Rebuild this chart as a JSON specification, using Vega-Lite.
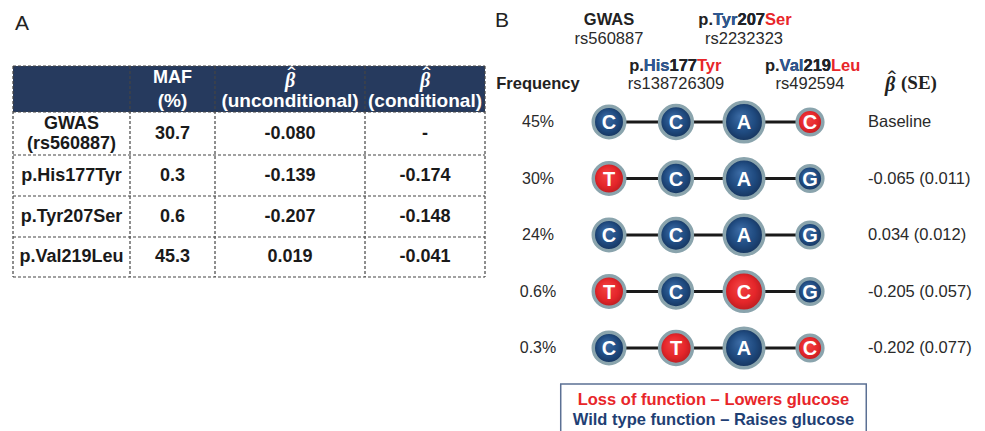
{
 "$schema": "https://vega.github.io/schema/vega-lite/v6.json",
 "padding": 0,
 "spacing": 0,
 "bounds": "flush",
 "background": "white",
 "config": {"view": {"stroke": null}, "text": {"font": "Liberation Sans"}},
 "datasets": {
  "tbl": [
   {"row":1,"col":0,"text":"GWAS\n(rs560887)"},{"row":1,"col":1,"text":"30.7"},{"row":1,"col":2,"text":"-0.080"},{"row":1,"col":3,"text":"-"},
   {"row":2,"col":0,"text":"p.His177Tyr"},{"row":2,"col":1,"text":"0.3"},{"row":2,"col":2,"text":"-0.139"},{"row":2,"col":3,"text":"-0.174"},
   {"row":3,"col":0,"text":"p.Tyr207Ser"},{"row":3,"col":1,"text":"0.6"},{"row":3,"col":2,"text":"-0.207"},{"row":3,"col":3,"text":"-0.148"},
   {"row":4,"col":0,"text":"p.Val219Leu"},{"row":4,"col":1,"text":"45.3"},{"row":4,"col":2,"text":"0.019"},{"row":4,"col":3,"text":"-0.041"}
  ],
  "thead": [
   {"row":0,"col":1,"top":"MAF","sub":"(%)"},
   {"row":0,"col":2,"top":"β","sub":"(unconditional)"},
   {"row":0,"col":3,"top":"β","sub":"(conditional)"}
  ],
  "vedges": [{"col":-0.5},{"col":0.5},{"col":1.5},{"col":2.5},{"col":3.5}],
  "hedges": [{"row":-0.5},{"row":0.5},{"row":1.5},{"row":2.5},{"row":3.5},{"row":4.5}],
  "snps": [
   {"row":-2,"col":1,"name":"GWAS","rs":"rs560887"},
   {"row":-2,"col":3,"pre":"p.Tyr207","wnum":"Tyr207","num":"207","mut":"Ser","rs":"rs2232323"},
   {"row":-1,"col":2,"pre":"p.His177","wnum":"His177","num":"177","mut":"Tyr","rs":"rs138726309"},
   {"row":-1,"col":4,"pre":"p.Val219","wnum":"Val219","num":"219","mut":"Leu","rs":"rs492594"}
  ],
  "haps": [
   {"row":0,"freq":"45%","beta":"Baseline"},
   {"row":1,"freq":"30%","beta":"-0.065 (0.011)"},
   {"row":2,"freq":"24%","beta":"0.034 (0.012)"},
   {"row":3,"freq":"0.6%","beta":"-0.205 (0.057)"},
   {"row":4,"freq":"0.3%","beta":"-0.202 (0.077)"}
  ],
  "alleles": [
   {"row":0,"col":1,"allele":"C","fn":"wild"},{"row":0,"col":2,"allele":"C","fn":"wild"},{"row":0,"col":3,"allele":"A","fn":"wild"},{"row":0,"col":4,"allele":"C","fn":"loss"},
   {"row":1,"col":1,"allele":"T","fn":"loss"},{"row":1,"col":2,"allele":"C","fn":"wild"},{"row":1,"col":3,"allele":"A","fn":"wild"},{"row":1,"col":4,"allele":"G","fn":"wild"},
   {"row":2,"col":1,"allele":"C","fn":"wild"},{"row":2,"col":2,"allele":"C","fn":"wild"},{"row":2,"col":3,"allele":"A","fn":"wild"},{"row":2,"col":4,"allele":"G","fn":"wild"},
   {"row":3,"col":1,"allele":"T","fn":"loss"},{"row":3,"col":2,"allele":"C","fn":"wild"},{"row":3,"col":3,"allele":"C","fn":"loss"},{"row":3,"col":4,"allele":"G","fn":"wild"},
   {"row":4,"col":1,"allele":"C","fn":"wild"},{"row":4,"col":2,"allele":"T","fn":"loss"},{"row":4,"col":3,"allele":"A","fn":"wild"},{"row":4,"col":4,"allele":"C","fn":"loss"}
  ],
  "legendrows": [
   {"row":5,"fn":"loss","text":"Loss of function – Lowers glucose"},
   {"row":6,"fn":"wild","text":"Wild type function – Raises glucose"}
  ]
 },
 "hconcat": [
  {
   "width": 490, "height": 431,
   "layer": [
    {"data":{"values":[{"part":"header"}]},
     "mark":{"type":"rect","fill":"#263a5e"},
     "encoding":{
      "x":{"datum":-0.5,"type":"quantitative","scale":{"domain":[-0.5,0.5,1.5,2.5,3.5],"range":[13,130,215,365,485],"nice":false,"zero":false},"axis":null},
      "x2":{"datum":3.5},
      "y":{"datum":-0.5,"type":"quantitative","scale":{"domain":[-0.5,0.5,1.5,2.5,3.5,4.5],"range":[66,112,155,196,237,277],"nice":false,"zero":false},"axis":null},
      "y2":{"datum":0.5}}},
    {"data":{"name":"vedges"},
     "mark":{"type":"rule","strokeDash":[3,2],"color":"#444444","strokeWidth":1.2},
     "encoding":{
      "x":{"field":"col","type":"quantitative","scale":{"domain":[-0.5,0.5,1.5,2.5,3.5],"range":[13,130,215,365,485],"nice":false,"zero":false},"axis":null},
      "y":{"datum":-0.5,"type":"quantitative","scale":{"domain":[-0.5,0.5,1.5,2.5,3.5,4.5],"range":[66,112,155,196,237,277],"nice":false,"zero":false},"axis":null},
      "y2":{"datum":4.5}}},
    {"data":{"name":"hedges"},
     "mark":{"type":"rule","strokeDash":[3,2],"color":"#444444","strokeWidth":1.2},
     "encoding":{
      "y":{"field":"row","type":"quantitative","scale":{"domain":[-0.5,0.5,1.5,2.5,3.5,4.5],"range":[66,112,155,196,237,277],"nice":false,"zero":false},"axis":null},
      "x":{"datum":-0.5,"type":"quantitative","scale":{"domain":[-0.5,0.5,1.5,2.5,3.5],"range":[13,130,215,365,485],"nice":false,"zero":false},"axis":null},
      "x2":{"datum":3.5}}},
    {"data":{"name":"thead"},
     "transform":[{"filter":"datum.col == 1"}],
     "mark":{"type":"text","font":"Liberation Sans","fontWeight":"bold","fontSize":18,"color":"white","baseline":"middle","dy":-11},
     "encoding":{
      "x":{"field":"col","type":"quantitative","scale":{"domain":[-0.5,0.5,1.5,2.5,3.5],"range":[13,130,215,365,485],"nice":false,"zero":false},"axis":null},
      "y":{"field":"row","type":"quantitative","scale":{"domain":[-0.5,0.5,1.5,2.5,3.5,4.5],"range":[66,112,155,196,237,277],"nice":false,"zero":false},"axis":null},
      "text":{"field":"top","type":"nominal"}}},
    {"data":{"name":"thead"},
     "transform":[{"filter":"datum.col > 1"}],
     "mark":{"type":"text","font":"Liberation Serif","fontWeight":"bold","fontStyle":"italic","fontSize":20,"color":"white","baseline":"middle","dy":-8},
     "encoding":{
      "x":{"field":"col","type":"quantitative","scale":{"domain":[-0.5,0.5,1.5,2.5,3.5],"range":[13,130,215,365,485],"nice":false,"zero":false},"axis":null},
      "y":{"field":"row","type":"quantitative","scale":{"domain":[-0.5,0.5,1.5,2.5,3.5,4.5],"range":[66,112,155,196,237,277],"nice":false,"zero":false},"axis":null},
      "text":{"field":"top","type":"nominal"}}},
    {"data":{"name":"thead"},
     "transform":[{"filter":"datum.col > 1"}],
     "mark":{"type":"text","font":"DejaVu Sans","fontWeight":"bold","fontSize":13,"color":"white","baseline":"middle","dy":-17,"dx":1.5,"text":"^"},
     "encoding":{
      "x":{"field":"col","type":"quantitative","scale":{"domain":[-0.5,0.5,1.5,2.5,3.5],"range":[13,130,215,365,485],"nice":false,"zero":false},"axis":null},
      "y":{"field":"row","type":"quantitative","scale":{"domain":[-0.5,0.5,1.5,2.5,3.5,4.5],"range":[66,112,155,196,237,277],"nice":false,"zero":false},"axis":null}}},
    {"data":{"name":"thead"},
     "mark":{"type":"text","font":"Liberation Sans","fontWeight":"bold","fontSize":19,"color":"white","baseline":"middle","dy":12},
     "encoding":{
      "x":{"field":"col","type":"quantitative","scale":{"domain":[-0.5,0.5,1.5,2.5,3.5],"range":[13,130,215,365,485],"nice":false,"zero":false},"axis":null},
      "y":{"field":"row","type":"quantitative","scale":{"domain":[-0.5,0.5,1.5,2.5,3.5,4.5],"range":[66,112,155,196,237,277],"nice":false,"zero":false},"axis":null},
      "text":{"field":"sub","type":"nominal"}}},
    {"data":{"name":"tbl"},
     "transform":[{"filter":"!(datum.row == 1 && datum.col == 0)"}],
     "mark":{"type":"text","font":"Liberation Sans","fontWeight":"bold","fontSize":18,"color":"#1a1a1a","baseline":"middle"},
     "encoding":{
      "x":{"field":"col","type":"quantitative","scale":{"domain":[-0.5,0.5,1.5,2.5,3.5],"range":[13,130,215,365,485],"nice":false,"zero":false},"axis":null},
      "y":{"field":"row","type":"quantitative","scale":{"domain":[-0.5,0.5,1.5,2.5,3.5,4.5],"range":[66,112,155,196,237,277],"nice":false,"zero":false},"axis":null},
      "text":{"field":"text","type":"nominal"}}},
    {"data":{"name":"tbl"},
     "transform":[{"filter":"datum.row == 1 && datum.col == 0"}],
     "mark":{"type":"text","font":"Liberation Sans","fontWeight":"bold","fontSize":18,"color":"#1a1a1a","baseline":"middle","lineBreak":"\n","lineHeight":20,"dy":-10},
     "encoding":{
      "x":{"field":"col","type":"quantitative","scale":{"domain":[-0.5,0.5,1.5,2.5,3.5],"range":[13,130,215,365,485],"nice":false,"zero":false},"axis":null},
      "y":{"field":"row","type":"quantitative","scale":{"domain":[-0.5,0.5,1.5,2.5,3.5,4.5],"range":[66,112,155,196,237,277],"nice":false,"zero":false},"axis":null},
      "text":{"field":"text","type":"nominal"}}},
    {"data":{"values":[{"label":"A"}]},
     "mark":{"type":"text","font":"Liberation Sans","fontSize":21,"color":"#222222","align":"left","baseline":"alphabetic","dx":2},
     "encoding":{
      "x":{"datum":-0.5,"type":"quantitative","scale":{"domain":[-0.5,0.5,1.5,2.5,3.5],"range":[13,130,215,365,485],"nice":false,"zero":false},"axis":null},
      "y":{"datum":-1.283,"type":"quantitative","scale":{"domain":[-0.5,0.5,1.5,2.5,3.5,4.5],"range":[66,112,155,196,237,277],"nice":false,"zero":false},"axis":null},
      "text":{"field":"label","type":"nominal"}}}
   ]
  },
  {
   "width": 495, "height": 431,
   "layer": [
    {"data":{"name":"haps"},
     "mark":{"type":"rule","color":"#1a1a1a","strokeWidth":3},
     "encoding":{
      "x":{"datum":1,"type":"quantitative","scale":{"domain":[0,1,2,3,4,5],"range":[48,119,186,254,320,378],"nice":false,"zero":false},"axis":null},
      "x2":{"datum":4},
      "y":{"field":"row","type":"quantitative","scale":{"domain":[-2,-1,0,1,2,3,4,5,6],"range":[20,65.5,122,178.5,235,291.5,348,400,420],"nice":false,"zero":false},"axis":null}}},
    {"data":{"name":"alleles"},
     "transform":[{"filter":"datum.fn == 'wild'"}],
     "mark":{"type":"point","shape":"circle","filled":true,"opacity":1,"stroke":"#8aa4ad","strokeWidth":3.5,
       "fill":{"gradient":"radial","x1":0.4,"y1":0.35,"r1":0,"x2":0.5,"y2":0.5,"r2":0.55,"stops":[{"offset":0,"color":"#3c6ca6"},{"offset":0.6,"color":"#1f4a7f"},{"offset":1,"color":"#142f55"}]}},
     "encoding":{
      "x":{"field":"col","type":"quantitative","scale":{"domain":[0,1,2,3,4,5],"range":[48,119,186,254,320,378],"nice":false,"zero":false},"axis":null},
      "y":{"field":"row","type":"quantitative","scale":{"domain":[-2,-1,0,1,2,3,4,5,6],"range":[20,65.5,122,178.5,235,291.5,348,400,420],"nice":false,"zero":false},"axis":null},
      "size":{"field":"col","type":"quantitative","scale":{"domain":[1,2,3,4],"range":[990,1075,1555,660],"nice":false,"zero":false},"legend":null}}},
    {"data":{"name":"alleles"},
     "transform":[{"filter":"datum.fn == 'loss'"}],
     "mark":{"type":"point","shape":"circle","filled":true,"opacity":1,"stroke":"#8aa4ad","strokeWidth":3.5,
       "fill":{"gradient":"radial","x1":0.4,"y1":0.35,"r1":0,"x2":0.5,"y2":0.5,"r2":0.55,"stops":[{"offset":0,"color":"#f24444"},{"offset":0.6,"color":"#e5262a"},{"offset":1,"color":"#b01a1e"}]}},
     "encoding":{
      "x":{"field":"col","type":"quantitative","scale":{"domain":[0,1,2,3,4,5],"range":[48,119,186,254,320,378],"nice":false,"zero":false},"axis":null},
      "y":{"field":"row","type":"quantitative","scale":{"domain":[-2,-1,0,1,2,3,4,5,6],"range":[20,65.5,122,178.5,235,291.5,348,400,420],"nice":false,"zero":false},"axis":null},
      "size":{"field":"col","type":"quantitative","scale":{"domain":[1,2,3,4],"range":[990,1075,1555,660],"nice":false,"zero":false},"legend":null}}},
    {"data":{"name":"alleles"},
     "mark":{"type":"text","font":"Liberation Sans","fontWeight":"bold","fontSize":20,"color":"white","baseline":"middle","dy":1},
     "encoding":{
      "x":{"field":"col","type":"quantitative","scale":{"domain":[0,1,2,3,4,5],"range":[48,119,186,254,320,378],"nice":false,"zero":false},"axis":null},
      "y":{"field":"row","type":"quantitative","scale":{"domain":[-2,-1,0,1,2,3,4,5,6],"range":[20,65.5,122,178.5,235,291.5,348,400,420],"nice":false,"zero":false},"axis":null},
      "text":{"field":"allele","type":"nominal"}}},
    {"data":{"name":"haps"},
     "mark":{"type":"text","font":"Liberation Sans","fontSize":16,"color":"#2a2a2a","baseline":"middle"},
     "encoding":{
      "x":{"datum":0,"type":"quantitative","scale":{"domain":[0,1,2,3,4,5],"range":[48,119,186,254,320,378],"nice":false,"zero":false},"axis":null},
      "y":{"field":"row","type":"quantitative","scale":{"domain":[-2,-1,0,1,2,3,4,5,6],"range":[20,65.5,122,178.5,235,291.5,348,400,420],"nice":false,"zero":false},"axis":null},
      "text":{"field":"freq","type":"nominal"}}},
    {"data":{"name":"haps"},
     "mark":{"type":"text","font":"Liberation Sans","fontSize":16.5,"color":"#2a2a2a","baseline":"middle","align":"left"},
     "encoding":{
      "x":{"datum":5,"type":"quantitative","scale":{"domain":[0,1,2,3,4,5],"range":[48,119,186,254,320,378],"nice":false,"zero":false},"axis":null},
      "y":{"field":"row","type":"quantitative","scale":{"domain":[-2,-1,0,1,2,3,4,5,6],"range":[20,65.5,122,178.5,235,291.5,348,400,420],"nice":false,"zero":false},"axis":null},
      "text":{"field":"beta","type":"nominal"}}},
    {"data":{"values":[{"label":"Frequency"}]},
     "mark":{"type":"text","font":"Liberation Sans","fontWeight":"bold","fontSize":16.5,"color":"#222222","baseline":"middle","dy":18},
     "encoding":{
      "x":{"datum":0,"type":"quantitative","scale":{"domain":[0,1,2,3,4,5],"range":[48,119,186,254,320,378],"nice":false,"zero":false},"axis":null},
      "y":{"datum":-1,"type":"quantitative","scale":{"domain":[-2,-1,0,1,2,3,4,5,6],"range":[20,65.5,122,178.5,235,291.5,348,400,420],"nice":false,"zero":false},"axis":null},
      "text":{"field":"label","type":"nominal"}}},
    {"data":{"values":[{"label":"β"}]},
     "mark":{"type":"text","font":"Liberation Serif","fontWeight":"bold","fontStyle":"italic","fontSize":20,"color":"#222222","baseline":"middle","align":"left","dx":17,"dy":19},
     "encoding":{
      "x":{"datum":5,"type":"quantitative","scale":{"domain":[0,1,2,3,4,5],"range":[48,119,186,254,320,378],"nice":false,"zero":false},"axis":null},
      "y":{"datum":-1,"type":"quantitative","scale":{"domain":[-2,-1,0,1,2,3,4,5,6],"range":[20,65.5,122,178.5,235,291.5,348,400,420],"nice":false,"zero":false},"axis":null},
      "text":{"field":"label","type":"nominal"}}},
    {"data":{"values":[{"label":"^"}]},
     "mark":{"type":"text","font":"DejaVu Sans","fontWeight":"bold","fontSize":13,"color":"#222222","baseline":"middle","align":"left","dx":18.5,"dy":10},
     "encoding":{
      "x":{"datum":5,"type":"quantitative","scale":{"domain":[0,1,2,3,4,5],"range":[48,119,186,254,320,378],"nice":false,"zero":false},"axis":null},
      "y":{"datum":-1,"type":"quantitative","scale":{"domain":[-2,-1,0,1,2,3,4,5,6],"range":[20,65.5,122,178.5,235,291.5,348,400,420],"nice":false,"zero":false},"axis":null},
      "text":{"field":"label","type":"nominal"}}},
    {"data":{"values":[{"label":"(SE)"}]},
     "mark":{"type":"text","font":"Liberation Serif","fontWeight":"bold","fontSize":19,"color":"#222222","baseline":"middle","align":"left","dx":33,"dy":17},
     "encoding":{
      "x":{"datum":5,"type":"quantitative","scale":{"domain":[0,1,2,3,4,5],"range":[48,119,186,254,320,378],"nice":false,"zero":false},"axis":null},
      "y":{"datum":-1,"type":"quantitative","scale":{"domain":[-2,-1,0,1,2,3,4,5,6],"range":[20,65.5,122,178.5,235,291.5,348,400,420],"nice":false,"zero":false},"axis":null},
      "text":{"field":"label","type":"nominal"}}},
    {"data":{"name":"snps"},
     "transform":[{"filter":"isValid(datum.name)"}],
     "mark":{"type":"text","font":"Liberation Sans","fontWeight":"bold","fontSize":16.5,"color":"#222222","baseline":"middle"},
     "encoding":{
      "x":{"field":"col","type":"quantitative","scale":{"domain":[0,1,2,3,4,5],"range":[48,119,186,254,320,378],"nice":false,"zero":false},"axis":null},
      "y":{"field":"row","type":"quantitative","scale":{"domain":[-2,-1,0,1,2,3,4,5,6],"range":[20,65.5,122,178.5,235,291.5,348,400,420],"nice":false,"zero":false},"axis":null},
      "text":{"field":"name","type":"nominal"}}},
    {"data":{"name":"snps"},
     "transform":[{"filter":"isValid(datum.pre)"}],
     "mark":{"type":"text","font":"Liberation Sans","fontWeight":"bold","fontSize":16.5,"color":"#222222","baseline":"middle","align":"right","dx":21},
     "encoding":{
      "x":{"field":"col","type":"quantitative","scale":{"domain":[0,1,2,3,4,5],"range":[48,119,186,254,320,378],"nice":false,"zero":false},"axis":null},
      "y":{"field":"row","type":"quantitative","scale":{"domain":[-2,-1,0,1,2,3,4,5,6],"range":[20,65.5,122,178.5,235,291.5,348,400,420],"nice":false,"zero":false},"axis":null},
      "text":{"field":"pre","type":"nominal"}}},
    {"data":{"name":"snps"},
     "transform":[{"filter":"isValid(datum.pre)"}],
     "mark":{"type":"text","font":"Liberation Sans","fontWeight":"bold","fontSize":16.5,"color":"#2e5894","baseline":"middle","align":"right","dx":21},
     "encoding":{
      "x":{"field":"col","type":"quantitative","scale":{"domain":[0,1,2,3,4,5],"range":[48,119,186,254,320,378],"nice":false,"zero":false},"axis":null},
      "y":{"field":"row","type":"quantitative","scale":{"domain":[-2,-1,0,1,2,3,4,5,6],"range":[20,65.5,122,178.5,235,291.5,348,400,420],"nice":false,"zero":false},"axis":null},
      "text":{"field":"wnum","type":"nominal"}}},
    {"data":{"name":"snps"},
     "transform":[{"filter":"isValid(datum.pre)"}],
     "mark":{"type":"text","font":"Liberation Sans","fontWeight":"bold","fontSize":16.5,"color":"#222222","baseline":"middle","align":"right","dx":21},
     "encoding":{
      "x":{"field":"col","type":"quantitative","scale":{"domain":[0,1,2,3,4,5],"range":[48,119,186,254,320,378],"nice":false,"zero":false},"axis":null},
      "y":{"field":"row","type":"quantitative","scale":{"domain":[-2,-1,0,1,2,3,4,5,6],"range":[20,65.5,122,178.5,235,291.5,348,400,420],"nice":false,"zero":false},"axis":null},
      "text":{"field":"num","type":"nominal"}}},
    {"data":{"name":"snps"},
     "transform":[{"filter":"isValid(datum.pre)"}],
     "mark":{"type":"text","font":"Liberation Sans","fontWeight":"bold","fontSize":16.5,"color":"#e8262a","baseline":"middle","align":"left","dx":21},
     "encoding":{
      "x":{"field":"col","type":"quantitative","scale":{"domain":[0,1,2,3,4,5],"range":[48,119,186,254,320,378],"nice":false,"zero":false},"axis":null},
      "y":{"field":"row","type":"quantitative","scale":{"domain":[-2,-1,0,1,2,3,4,5,6],"range":[20,65.5,122,178.5,235,291.5,348,400,420],"nice":false,"zero":false},"axis":null},
      "text":{"field":"mut","type":"nominal"}}},
    {"data":{"name":"snps"},
     "mark":{"type":"text","font":"Liberation Sans","fontSize":16.5,"color":"#2a2a2a","baseline":"middle","dy":18.5},
     "encoding":{
      "x":{"field":"col","type":"quantitative","scale":{"domain":[0,1,2,3,4,5],"range":[48,119,186,254,320,378],"nice":false,"zero":false},"axis":null},
      "y":{"field":"row","type":"quantitative","scale":{"domain":[-2,-1,0,1,2,3,4,5,6],"range":[20,65.5,122,178.5,235,291.5,348,400,420],"nice":false,"zero":false},"axis":null},
      "text":{"field":"rs","type":"nominal"}}},
    {"data":{"values":[{"part":"legendbox"}]},
     "mark":{"type":"rect","fill":"white","fillOpacity":0,"stroke":"#5b7094","strokeWidth":1.5,"clip":true},
     "encoding":{
      "x":{"datum":0.32,"type":"quantitative","scale":{"domain":[0,1,2,3,4,5],"range":[48,119,186,254,320,378],"nice":false,"zero":false},"axis":null},
      "x2":{"datum":4.97},
      "y":{"datum":4.69,"type":"quantitative","scale":{"domain":[-2,-1,0,1,2,3,4,5,6],"range":[20,65.5,122,178.5,235,291.5,348,400,420],"nice":false,"zero":false},"axis":null},
      "y2":{"datum":7}}},
    {"data":{"name":"legendrows"},
     "mark":{"type":"text","font":"Liberation Sans","fontWeight":"bold","fontSize":16.5,"baseline":"middle"},
     "encoding":{
      "x":{"datum":2.55,"type":"quantitative","scale":{"domain":[0,1,2,3,4,5],"range":[48,119,186,254,320,378],"nice":false,"zero":false},"axis":null},
      "y":{"field":"row","type":"quantitative","scale":{"domain":[-2,-1,0,1,2,3,4,5,6],"range":[20,65.5,122,178.5,235,291.5,348,400,420],"nice":false,"zero":false},"axis":null},
      "color":{"field":"fn","type":"nominal","scale":{"domain":["loss","wild"],"range":["#e8262a","#1f3f74"]},"legend":null},
      "text":{"field":"text","type":"nominal"}}},
    {"data":{"values":[{"label":"B"}]},
     "mark":{"type":"text","font":"Liberation Sans","fontSize":21,"color":"#222222","align":"left","baseline":"alphabetic"},
     "encoding":{
      "x":{"datum":-0.606,"type":"quantitative","scale":{"domain":[0,1,2,3,4,5],"range":[48,119,186,254,320,378],"nice":false,"zero":false},"axis":null},
      "y":{"datum":-1.846,"type":"quantitative","scale":{"domain":[-2,-1,0,1,2,3,4,5,6],"range":[20,65.5,122,178.5,235,291.5,348,400,420],"nice":false,"zero":false},"axis":null},
      "text":{"field":"label","type":"nominal"}}}
   ]
  }
 ]
}
